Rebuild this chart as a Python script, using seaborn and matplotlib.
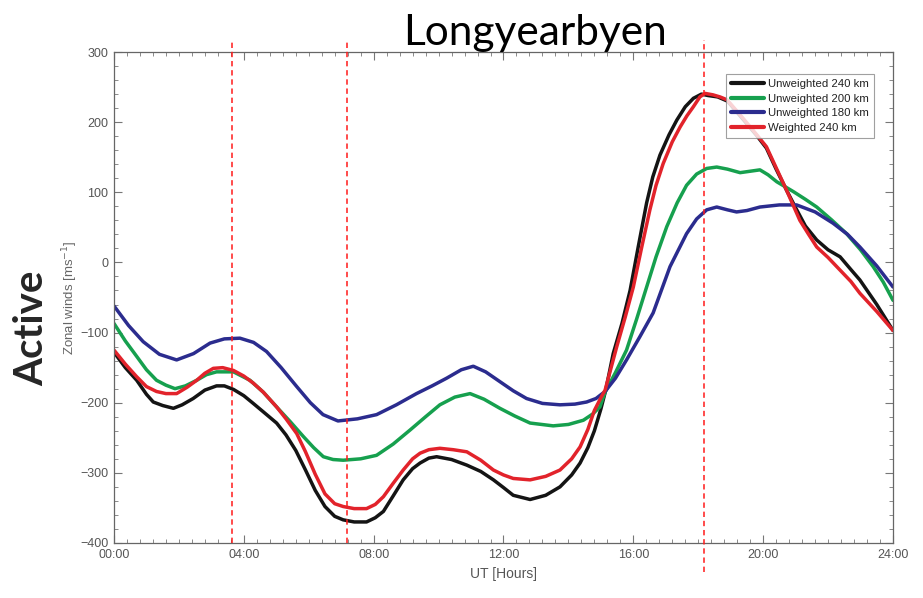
import numpy as np
import pandas as pd
import seaborn as sns
import matplotlib.pyplot as plt
from matplotlib.ticker import MultipleLocator, FuncFormatter

# UT hours and zonal winds (m/s)
hours_180 = [0.0, 0.45, 0.9, 1.4, 1.93, 2.45, 2.96, 3.4, 3.88, 4.3, 4.7, 5.15, 5.63, 6.05,
             6.44, 6.9, 7.5, 8.09, 8.7, 9.32, 9.8, 10.25, 10.7, 11.07, 11.45, 11.89, 12.3,
             12.71, 13.2, 13.74, 14.2, 14.56, 14.85, 15.13, 15.45, 15.79, 16.2, 16.61, 17.13,
             17.64, 17.95, 18.26, 18.57, 18.9, 19.18, 19.5, 19.9, 20.5, 21.03, 21.6, 22.15,
             22.6, 22.98, 23.5, 24.0]
unw_180 = [-62, -90, -113, -131, -139, -130, -115, -109, -108, -114, -127, -150, -177, -200,
           -217, -226, -223, -217, -203, -187, -176, -165, -153, -148, -156, -170, -183,
           -194, -201, -203, -202, -199, -194, -184, -165, -139, -106, -72, -6,
           41, 62, 75, 79, 75, 72, 74, 79, 82, 82, 72, 56,
           40, 22, -5, -35]

hours_200 = [0.0, 0.35, 0.7, 1.0, 1.31, 1.6, 1.88, 2.2, 2.55, 2.85, 3.16, 3.68, 4.19, 4.6,
             5.01, 5.43, 5.83, 6.15, 6.45, 6.75, 7.06, 7.6, 8.09, 8.6, 9.12, 9.6, 10.04,
             10.5, 10.97, 11.4, 11.89, 12.35, 12.82, 13.53, 14.0, 14.46, 14.75, 14.97, 15.13,
             15.45, 15.79, 16.1, 16.41, 16.7, 17.03, 17.35, 17.64, 17.95, 18.26, 18.57, 18.9,
             19.29, 19.9, 20.15, 20.42, 20.93, 21.3, 21.65, 22.1, 22.57, 23.0, 23.39, 23.7, 24.0]
unw_200 = [-87, -112, -134, -153, -168, -175, -180, -176, -168, -160, -156, -156, -168, -185,
           -206, -227, -248, -264, -277, -281, -282, -280, -275, -259, -239, -220, -203,
           -192, -187, -195, -208, -219, -229, -233, -231, -225, -216, -206, -185,
           -157, -125, -81, -35, 8, 51, 85, 110, 126, 134, 136, 133,
           128, 132, 125, 115, 101, 90, 79, 61, 41, 18, -6, -28, -54]

hours_240 = [0.0, 0.35, 0.7, 1.0, 1.21, 1.5, 1.83, 2.1, 2.44, 2.8, 3.16, 3.4, 3.68, 4.0,
             4.29, 4.6, 5.01, 5.3, 5.6, 5.9, 6.2, 6.5, 6.8, 7.06, 7.4, 7.78, 8.05, 8.3, 8.6,
             8.91, 9.2, 9.43, 9.7, 9.94, 10.4, 10.87, 11.3, 11.69, 12.0, 12.3, 12.82, 13.3,
             13.74, 14.1, 14.36, 14.6, 14.8, 15.0, 15.15, 15.38, 15.65, 15.9, 16.15,
             16.41, 16.6, 16.82, 17.1, 17.34, 17.6, 17.85, 18.1, 18.3, 18.6, 18.9, 19.4,
             19.8, 20.1, 20.4, 20.72, 21.0, 21.3, 21.65, 22.0, 22.37, 22.7, 22.98, 23.5, 24.0]
unw_240 = [-128, -150, -168, -188, -199, -204, -208, -203, -194, -182, -176, -176, -181, -190,
           -201, -213, -229, -246, -268, -296, -325, -348, -362, -367, -370, -370, -364, -355, -333,
           -310, -294, -286, -279, -277, -281, -289, -298, -310, -321, -332, -338, -332,
           -320, -303, -286, -264, -240, -209, -182, -130, -87, -40, 22,
           85, 122, 153, 182, 203, 222, 234, 240, 238, 236, 230, 203,
           181, 163, 133, 103, 78, 52, 32, 18, 8, -10, -25, -60, -97]

hours_w240 = [0.0, 0.35, 0.7, 1.0, 1.31, 1.6, 1.93, 2.25, 2.55, 2.8, 3.06, 3.35, 3.68, 4.0,
              4.29, 4.6, 5.01, 5.3, 5.63, 5.9, 6.2, 6.5, 6.8, 7.06, 7.4, 7.78, 8.05, 8.3,
              8.6, 8.91, 9.2, 9.43, 9.7, 10.04, 10.45, 10.87, 11.3, 11.69, 12.0, 12.3, 12.82,
              13.3, 13.74, 14.1, 14.36, 14.6, 14.8, 15.0, 15.13, 15.49, 15.75, 16.0, 16.25,
              16.51, 16.7, 16.92, 17.2, 17.44, 17.65, 17.85, 18.05, 18.21, 18.45, 18.67, 18.88,
              18.98, 19.39, 19.75, 20.1, 20.4, 20.72, 21.13, 21.4, 21.65, 22.0, 22.37, 22.7,
              22.98, 23.5, 24.0]
wei_240 = [-125, -145, -163, -177, -184, -187, -187, -178, -168, -158, -151, -150, -154, -162,
           -172, -185, -206, -223, -244, -270, -302, -330, -344, -348, -351, -351, -345, -334,
           -315, -296, -280, -272, -267, -265, -267, -270, -282, -296, -303, -308, -310,
           -305, -296, -280, -263, -238, -211, -193, -182, -120, -78, -35, 20,
           75, 110, 141, 172, 193, 209, 222, 236, 241, 239, 236, 232,
           227, 205, 185, 165, 135, 103, 60, 40, 22, 7, -11, -27,
           -44, -70, -97]

series_names = ["Unweighted 240 km", "Unweighted 200 km", "Unweighted 180 km", "Weighted 240 km"]
series_colors = ["#141414", "#16a04e", "#2b2c8e", "#e2232b"]
event_hours = [3.63, 7.17, 18.19]

frames = []
for name, hh, vv in zip(series_names,
                        [hours_240, hours_200, hours_180, hours_w240],
                        [unw_240, unw_200, unw_180, wei_240]):
    frames.append(pd.DataFrame({"UT": hh, "wind": vv, "run": name}))
df = pd.concat(frames, ignore_index=True)

sns.set_style("ticks")
plt.rcParams['font.family'] = ['Liberation Sans', 'DejaVu Sans']

fig = plt.figure(figsize=(9.23, 5.98), dpi=100)
ax = fig.add_axes([0.1235, 0.092, 0.844, 0.821])

sns.lineplot(data=df, x="UT", y="wind", hue="run", hue_order=series_names,
             palette=series_colors, estimator=None, sort=False, linewidth=2.5, ax=ax)

for i, h in enumerate(event_hours):
    ymin = -0.06 if i == 2 else 0.0
    ax.axvline(h, ymin=ymin, ymax=1.024, color="#ff1a1a", ls=(0, (3.5, 2.5)),
               lw=1.1, clip_on=False, zorder=5)

ax.set_xlim(0, 24)
ax.set_ylim(-400, 300)
ax.xaxis.set_major_locator(MultipleLocator(4))
ax.xaxis.set_minor_locator(MultipleLocator(0.4))
ax.yaxis.set_major_locator(MultipleLocator(100))
ax.yaxis.set_minor_locator(MultipleLocator(20))
ax.xaxis.set_major_formatter(FuncFormatter(lambda v, p: "%02d:00" % int(round(v))))
ax.tick_params(which="both", direction="in", top=True, right=True, colors="#777777",
               labelcolor="#555555", labelsize=9, pad=4)
ax.tick_params(which="major", length=6, width=0.8)
ax.tick_params(which="minor", length=3, width=0.6)
for s in ax.spines.values():
    s.set_color("#666666")
    s.set_linewidth(0.9)

ax.set_xlabel("UT [Hours]", fontsize=10, color="#555555", labelpad=5)
ax.set_ylabel("Zonal winds [ms$^{-1}$]", fontsize=9.5, color="#666666", labelpad=0)

leg = ax.legend(loc="upper right", bbox_to_anchor=(880 / 923, 1 - 68 / 598),
                bbox_transform=fig.transFigure, fontsize=8.2, handlelength=2.9,
                frameon=True, fancybox=False, borderpad=0.45, labelspacing=0.42,
                handletextpad=0.35)
leg.get_frame().set_edgecolor("#888888")
leg.get_frame().set_linewidth(0.8)
for line in leg.get_lines():
    line.set_linewidth(3.0)
for t in leg.get_texts():
    t.set_color("#222222")

fig.text(0.58, 1 - 45 / 598, "Longyearbyen", fontsize=30.5, family=["Lato", "DejaVu Sans"],
         ha="center", va="baseline", color="black")
fig.text(0.034, 1 - 328 / 598, "Active", fontsize=29, fontweight="bold",
         family=["Lato", "DejaVu Sans"], rotation=90, ha="center", va="center")

fig.savefig("out.png", dpi=100)
